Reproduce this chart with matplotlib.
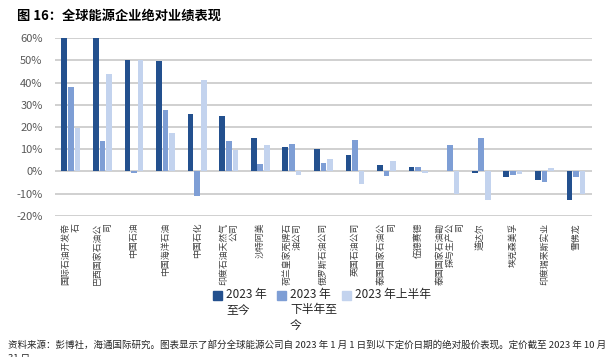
import numpy as np
import matplotlib
matplotlib.use("Agg")
import matplotlib.pyplot as plt
from matplotlib.patches import Rectangle

plt.rcParams['font.family'] = ['Noto Sans CJK SC', 'DejaVu Sans']

# Data (percent change)
companies = [
    "国际石油开发帝\n石", "巴西国家石油公\n司", "中国石油", "中国海洋石油", "中国石化",
    "印度石油天然气\n公司", "沙特阿美", "荷兰皇家壳牌石\n油公司", "俄罗斯石油公司", "英国石油公司",
    "泰国国家石油公\n司", "伍德赛德", "泰国国家石油勘\n探与生产公\n司", "道达尔", "埃克森美孚",
    "印度瑞来斯实业", "雪佛龙",
]
ytd = [60, 60, 50.1, 49.8, 25.9, 24.8, 15.0, 11.2, 10.2, 7.6, 2.7, 2.1, 0.1, -0.8, -2.5, -3.7, -13.0]
h2_to_date = [37.8, 13.5, -0.5, 27.7, -10.9, 13.9, 3.3, 12.4, 4.0, 14.1, -2.2, 2.1, 11.8, 15.2, -1.6, -4.9, -2.5]
h1 = [19.5, 43.8, 50.0, 17.2, 41.1, 9.7, 11.8, -1.5, 5.8, -5.5, 4.8, -0.6, -10.0, -13.0, -1.3, 1.5, -10.3]

series_labels = ["2023 年\n至今", "2023 年\n下半年至\n今", "2023 年上半年"]
colors = ["#23508E", "#7E9ED5", "#C3D3EE"]

W, H = 612, 357
fig = plt.figure(figsize=(W / 100, H / 100), dpi=100)
ax = fig.add_axes([0.09, 0.395, 0.877, 0.4985])

x = np.arange(len(companies))
w = 0.18
off = 0.21
for i, (vals, c) in enumerate(zip([ytd, h2_to_date, h1], colors)):
    ax.bar(x + (i - 1) * off, vals, width=w, color=c, zorder=3)

ax.set_xlim(-0.5, len(companies) - 0.5)
ax.set_ylim(-20, 60)
ax.set_yticks(np.arange(-20, 61, 10))
ax.set_yticklabels([f"{v}%" for v in range(-20, 61, 10)])
ax.yaxis.grid(True, color="#C8C8C8", linewidth=1.2, zorder=0)
for s in ax.spines.values():
    s.set_visible(False)
ax.tick_params(axis="y", length=0, pad=9, labelsize=8, labelcolor="#595959")
ax.tick_params(axis="x", length=0, pad=5)
ax.set_xticks(x)
ax.set_xticklabels(companies, rotation=90, fontsize=6.4, color="#404040",
                   ha="center", va="top", multialignment="right", linespacing=1.15)

# legend drawn by hand so the squares sit on the first text line
leg_x = [213, 277, 342]
leg_y = 295
for lx, lab, c in zip(leg_x, series_labels, colors):
    fig.patches.append(Rectangle((lx / W, 1 - (leg_y + 4.5) / H), 9 / W, 9 / H,
                                 transform=fig.transFigure, color=c))
    fig.text((lx + 13) / W, 1 - (leg_y - 7) / H, lab, fontsize=8.5, va="top", ha="left",
             color="#262626", linespacing=1.25)

fig.text(0.028, 0.955, "图 16：全球能源企业绝对业绩表现", fontsize=9.5, fontweight="bold",
         va="center", ha="left", color="#000000")
fig.text(0.013, 0.033, "资料来源：彭博社，海通国际研究。图表显示了部分全球能源公司自 2023 年 1 月 1 日到以下定价日期的绝对股价表现。定价截至 2023 年 10 月",
         fontsize=6.85, va="center", ha="left", color="#262626")
fig.text(0.013, -0.004, "31 日。", fontsize=6.85, va="center", ha="left", color="#262626")

fig.savefig("out.png", dpi=100)
